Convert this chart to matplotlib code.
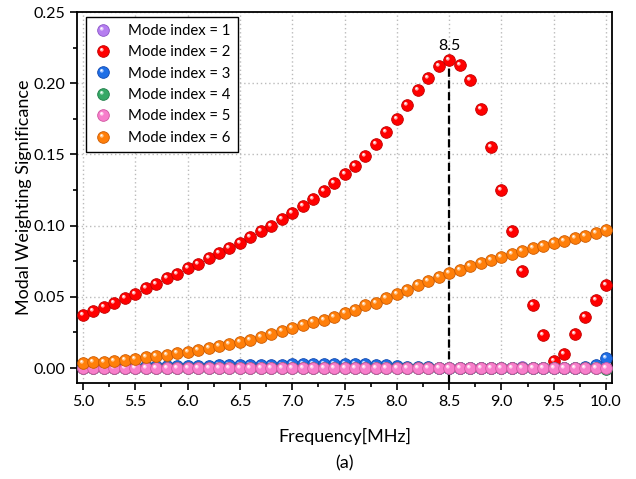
import numpy as np
import matplotlib
matplotlib.use("Agg")
import matplotlib.pyplot as plt
from matplotlib.path import Path
from matplotlib.legend_handler import HandlerTuple
from matplotlib.ticker import MultipleLocator, AutoMinorLocator, FormatStrFormatter

plt.rcParams['font.family'] = ['Lato', 'DejaVu Sans']

freq = np.round(np.arange(5.0, 10.01, 0.1), 1)

mode1 = [0.0]*41 + [0.0, 0.001, 0.0, 0.0, 0.0, 0.0, 0.0, 0.0, 0.0, 0.0]
mode2 = [0.037, 0.040, 0.043, 0.046, 0.049, 0.052, 0.056, 0.059, 0.063, 0.066,
         0.070, 0.073, 0.077, 0.081, 0.084, 0.088, 0.092, 0.096, 0.100, 0.105,
         0.109, 0.114, 0.119, 0.124, 0.130, 0.136, 0.142, 0.149, 0.157, 0.166,
         0.175, 0.185, 0.195, 0.204, 0.212, 0.216, 0.213, 0.202, 0.182, 0.155,
         0.125, 0.096, 0.068, 0.044, 0.023, 0.005, 0.010, 0.024, 0.036, 0.048,
         0.058]
mode3 = [0.0005, 0.0006, 0.0007, 0.0008, 0.0009, 0.001, 0.0011, 0.0012, 0.0013, 0.0014,
         0.0015, 0.0016, 0.0017, 0.0018, 0.0019, 0.002, 0.0021, 0.0022, 0.0023, 0.0024,
         0.0025, 0.0026, 0.0027, 0.0028, 0.0029, 0.003, 0.0028, 0.0025, 0.0022, 0.0018,
         0.0014, 0.001, 0.0007, 0.0005, 0.0003, 0.0002, 0.0001, 0.0, 0.0, 0.0,
         0.0, 0.0, 0.0, 0.0, 0.0, 0.0, 0.0, 0.0, 0.0005, 0.002, 0.007]
mode4 = [0.0]*50 + [-0.001]
mode5 = [0.0]*51
mode6 = [0.0035, 0.004, 0.0045, 0.005, 0.006, 0.0065, 0.0075, 0.0085, 0.0095, 0.0105,
         0.0115, 0.013, 0.014, 0.0155, 0.017, 0.0185, 0.020, 0.022, 0.024, 0.026,
         0.028, 0.030, 0.032, 0.034, 0.036, 0.039, 0.041, 0.044, 0.046, 0.049,
         0.052, 0.055, 0.058, 0.061, 0.064, 0.067, 0.069, 0.072, 0.074, 0.076,
         0.078, 0.080, 0.082, 0.084, 0.086, 0.088, 0.089, 0.091, 0.093, 0.095,
         0.097]

series = [mode1, mode2, mode3, mode4, mode5, mode6]
labels = ["Mode index = %d" % i for i in range(1, 7)]
colors = ["#b57ef0", "#ff0000", "#1f6fe6", "#35a866", "#f77ecb", "#ff7f0a"]
darks = ["#8a55c8", "#c00000", "#1048b0", "#1f7d48", "#d055a0", "#cc5a00"]
lights = ["#e4cdfb", "#ffb0b0", "#a8c8ff", "#a5e0c0", "#ffd0ec", "#ffcc99"]

# highlight marker: small circle up-left, padded so the marker keeps its scale
pad = Path([(-1, -1), (1, 1)], [Path.MOVETO, Path.MOVETO])
hl = Path.make_compound_path(pad, Path.circle(center=(-0.3, 0.3), radius=0.32))
hl2 = Path.make_compound_path(pad, Path.circle(center=(-0.35, 0.38), radius=0.14))

fig = plt.figure(figsize=(6.36, 4.79), dpi=100)
ax = fig.add_axes([0.1211, 0.2004, 0.8412, 0.7745])

handles = []
for y, c, d, l in zip(series, colors, darks, lights):
    b, = ax.plot(freq, y, 'o', ms=8.4, mfc=c, mec=d, mew=0.6, zorder=3)
    h, = ax.plot(freq, y, ls='none', marker=hl, ms=8.4, mfc=l, mew=0, zorder=3)
    h2, = ax.plot(freq, y, ls='none', marker=hl2, ms=8.4, mfc='white', mew=0, zorder=3)
    handles.append((b, h, h2))

ax.plot([8.5, 8.5], [-0.0105, 0.216], 'k--', lw=1.6, zorder=2)
ax.text(8.5, 0.2215, "8.5", ha='center', va='bottom', fontsize=11.5)

ax.set_xlim(4.943, 10.057)
ax.set_ylim(-0.0105, 0.25)
ax.xaxis.set_major_locator(MultipleLocator(0.5))
ax.xaxis.set_minor_locator(AutoMinorLocator(2))
ax.yaxis.set_major_locator(MultipleLocator(0.05))
ax.yaxis.set_minor_locator(AutoMinorLocator(2))
ax.xaxis.set_major_formatter(FormatStrFormatter('%.1f'))
ax.yaxis.set_major_formatter(FormatStrFormatter('%.2f'))
ax.tick_params(which='major', direction='out', length=5, width=1.2, labelsize=11.5)
ax.tick_params(which='minor', direction='out', length=3, width=1.2)
for s in ax.spines.values():
    s.set_linewidth(1.3)
ax.grid(True, which='major', ls=(0, (1, 2)), color='#bbbbbb', lw=1)
ax.set_axisbelow(True)

ax.set_ylabel("Modal Weighting Significance", fontsize=13, labelpad=1)
fig.text(0.5417, 0.088, "Frequency[MHz]", ha='center', va='center', fontsize=13)
fig.text(0.5417, 0.033, "(a)", ha='center', va='center', fontsize=13)

leg = ax.legend(handles, labels, handler_map={tuple: HandlerTuple(ndivide=1, pad=0)},
                loc='upper left', bbox_to_anchor=(0.017, 0.9865), borderaxespad=0,
                fontsize=10.7, fancybox=False, edgecolor='black', framealpha=1,
                numpoints=1, handlelength=1.4, handletextpad=1.0,
                labelspacing=0.5, borderpad=0.45)
leg.get_frame().set_linewidth(1.0)

fig.savefig("out.png", dpi=100)
